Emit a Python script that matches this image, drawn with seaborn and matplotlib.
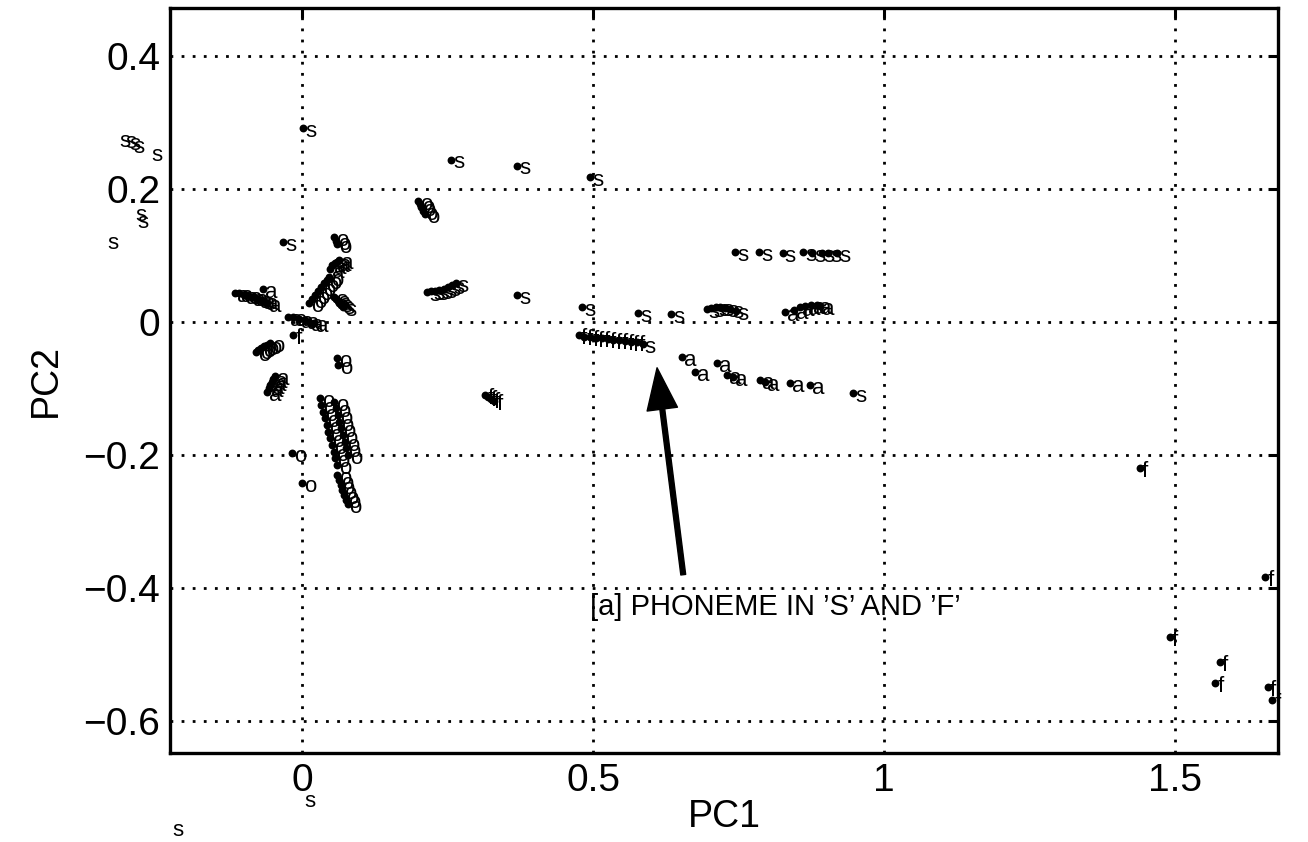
import pandas as pd
import matplotlib
matplotlib.use("Agg")
import matplotlib.pyplot as plt
import seaborn as sns

# PCA scores, grouped by phoneme label
s_pc1 = [-0.318, -0.308, -0.300, -0.293, -0.262, -0.290, -0.287, -0.338,
         0.002, 0.256, 0.369, 0.495, -0.033, 0.369, 0.481, 0.577, 0.634,
         0.744, 0.785, 0.826, 0.861, 0.876, 0.893, 0.904, 0.919, 0.947,
         0.000, -0.227,
         0.055, 0.058, 0.061, 0.064, 0.067, 0.070,
         0.215, 0.222, 0.229, 0.236, 0.243, 0.250, 0.257, 0.264,
         0.695, 0.703, 0.711, 0.719, 0.727, 0.735, 0.745, 0.585]
s_pc2 = [0.276, 0.275, 0.272, 0.268, 0.256, 0.165, 0.155, 0.123,
         0.292, 0.244, 0.235, 0.218, 0.120, 0.040, 0.023, 0.013, 0.012,
         0.105, 0.105, 0.104, 0.105, 0.104, 0.103, 0.103, 0.103, -0.107,
         -0.716, -0.760,
         0.038, 0.034, 0.031, 0.028, 0.025, 0.022,
         0.045, 0.046, 0.047, 0.048, 0.050, 0.052, 0.055, 0.058,
         0.020, 0.021, 0.022, 0.022, 0.021, 0.020, 0.017, -0.033]

a_pc1 = [-0.115, -0.108, -0.100, -0.094, -0.088, -0.082, -0.076, -0.070, -0.065, -0.060, -0.067,
         -0.025, -0.015, -0.005, 0.005, 0.012, 0.020,
         0.048, 0.052, 0.056, 0.060, 0.064,
         -0.060, -0.057, -0.055, -0.052, -0.050, -0.047,
         0.653, 0.675, 0.713, 0.730, 0.741, 0.787, 0.796, 0.838, 0.873,
         0.830, 0.845, 0.855, 0.865, 0.875, 0.885, 0.890]
a_pc2 = [0.044, 0.043, 0.041, 0.040, 0.038, 0.037, 0.035, 0.033, 0.031, 0.029, 0.050,
         0.008, 0.007, 0.005, 0.003, 0.000, -0.002,
         0.080, 0.085, 0.088, 0.090, 0.093,
         -0.105, -0.100, -0.095, -0.090, -0.086, -0.082,
         -0.053, -0.075, -0.062, -0.080, -0.083, -0.087, -0.090, -0.092, -0.095,
         0.015, 0.018, 0.022, 0.024, 0.025, 0.026, 0.024]

o_pc1 = [0.012, 0.017, 0.022, 0.027, 0.032, 0.037, 0.042, 0.047,
         0.055, 0.058, 0.060,
         0.200, 0.202, 0.205, 0.208, 0.211,
         -0.080, -0.075, -0.070, -0.065, -0.060, -0.055,
         0.060, 0.062,
         0.030, 0.033, 0.036, 0.039, 0.042, 0.045, 0.048, 0.051, 0.054, 0.057, 0.060,
         0.055, 0.058, 0.061, 0.064, 0.067, 0.070, 0.073, 0.076, 0.079,
         -0.017, 0.000,
         0.060, 0.063, 0.066, 0.069, 0.072, 0.075, 0.078]
o_pc2 = [0.028, 0.035, 0.041, 0.047, 0.053, 0.058, 0.063, 0.068,
         0.128, 0.122, 0.117,
         0.182, 0.177, 0.172, 0.167, 0.162,
         -0.045, -0.042, -0.040, -0.037, -0.035, -0.032,
         -0.055, -0.065,
         -0.115, -0.125, -0.135, -0.145, -0.155, -0.165, -0.175, -0.185, -0.195, -0.205, -0.215,
         -0.120, -0.130, -0.140, -0.150, -0.160, -0.170, -0.180, -0.190, -0.200,
         -0.197, -0.242,
         -0.230, -0.237, -0.245, -0.252, -0.260, -0.267, -0.274]

f_pc1 = [-0.015,
         0.315, 0.320, 0.325, 0.330,
         0.475, 0.485, 0.495, 0.505, 0.515, 0.525, 0.535, 0.545, 0.555, 0.565, 0.575,
         1.440, 1.655, 1.491, 1.577, 1.569, 1.660, 1.667]
f_pc2 = [-0.020,
         -0.110, -0.113, -0.116, -0.119,
         -0.020, -0.022, -0.023, -0.024, -0.025, -0.026, -0.027, -0.028, -0.029, -0.030, -0.031,
         -0.220, -0.383, -0.474, -0.511, -0.543, -0.549, -0.568]

x_ticks = [0, 0.5, 1, 1.5]
x_ticklabels = ["0", "0.5", "1", "1.5"]
y_ticks = [-0.6, -0.4, -0.2, 0, 0.2, 0.4]
y_ticklabels = ["\u22120.6", "\u22120.4", "\u22120.2", "0", "0.2", "0.4"]

df = pd.concat([
    pd.DataFrame({"PC1": s_pc1, "PC2": s_pc2, "label": "s"}),
    pd.DataFrame({"PC1": a_pc1, "PC2": a_pc2, "label": "a"}),
    pd.DataFrame({"PC1": o_pc1, "PC2": o_pc2, "label": "o"}),
    pd.DataFrame({"PC1": f_pc1, "PC2": f_pc2, "label": "f"}),
], ignore_index=True)

sns.set_style("white")
plt.rcParams["font.family"] = ["Liberation Sans", "DejaVu Sans"]
plt.rcParams["text.color"] = "black"
plt.rcParams["axes.labelcolor"] = "black"
plt.rcParams["xtick.color"] = "black"
plt.rcParams["ytick.color"] = "black"

fig = plt.figure(figsize=(13.08, 8.42), dpi=100)
ax = fig.add_axes([0.130, 0.1057, 0.847, 0.885])

sns.scatterplot(data=df, x="PC1", y="PC2", color="black", s=32,
                edgecolor="black", linewidth=0, legend=False, ax=ax, zorder=3)

# letter next to every point
for _, r in df.iterrows():
    ax.annotate(r["label"], (r["PC1"], r["PC2"]), xytext=(1.5, -2.5),
                textcoords="offset points", ha="left", va="center",
                fontsize=16, color="black", annotation_clip=False, zorder=4)

ax.set_xlim(-0.227, 1.677)
ax.set_ylim(-0.648, 0.472)
ax.set_xticks(x_ticks)
ax.set_xticklabels(x_ticklabels)
ax.set_yticks(y_ticks)
ax.set_yticklabels(y_ticklabels)
ax.tick_params(direction="in", length=7, width=2.2, labelsize=28,
               top=True, right=True, pad=7, colors="black")
ax.grid(True, color="black", linestyle=(0, (1, 3)), linewidth=2)
for sp in ax.spines.values():
    sp.set_linewidth(2.4)
    sp.set_color("black")
ax.set_xlabel("PC1", fontsize=27, labelpad=0)
ax.set_ylabel("PC2", fontsize=27, labelpad=14)

ax.annotate("", xy=(0.610, -0.069), xytext=(0.655, -0.380),
            arrowprops=dict(facecolor="black", edgecolor="black",
                            width=3.5, headwidth=22, headlength=30, shrink=0))
ax.text(0.495, -0.428, "[a] PHONEME IN \u2019S\u2019 AND \u2019F\u2019",
        fontsize=21, ha="left", va="center", color="black")

fig.savefig("out.png", dpi=100)
